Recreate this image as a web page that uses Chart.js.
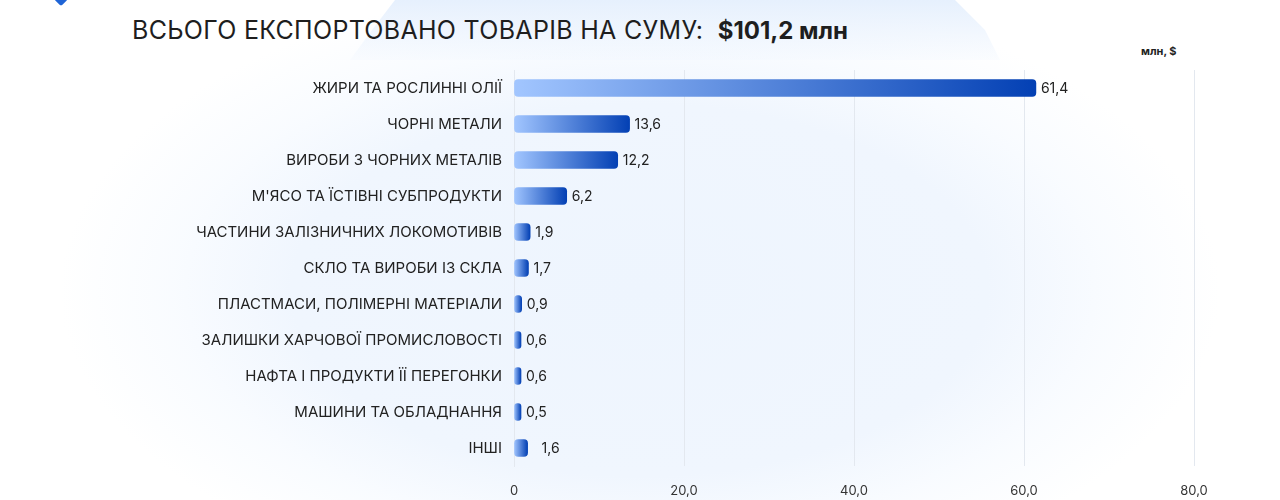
<!DOCTYPE html>
<html>
<head>
<meta charset="utf-8">
<script src="https://cdn.jsdelivr.net/npm/chart.js@4.4.0/dist/chart.umd.min.js"></script>
<style>
  html, body { margin: 0; padding: 0; }
  body {
    width: 1280px; height: 500px; position: relative; overflow: hidden;
    background: #ffffff;
    font-family: Inter, "Open Sans", sans-serif;
  }
  .blob {
    position: absolute; left: 60px; top: -20px; width: 1160px; height: 620px;
    background: radial-gradient(ellipse 50% 50% at center, #eef5fe 0%, #f0f6fe 60%, rgba(246,250,255,0.7) 80%, rgba(255,255,255,0) 100%);
  }
  .trap {
    position: absolute; left: 0; top: 0; width: 1280px; height: 60px;
    background: linear-gradient(#e6f0fd, rgba(238,245,254,0.2));
    clip-path: polygon(395px 0, 955px 0, 985px 30px, 1000px 60px, 350px 60px, 372px 30px);
  }
  .logo {
    position: absolute; left: 56px; top: -6px; width: 10px; height: 10px;
    background: #1f64d6; transform: rotate(45deg); border-radius: 2px;
  }
  .title {
    position: absolute; left: 132px; top: 15px;
    font-size: 25px; color: #1e1e1e; white-space: nowrap; letter-spacing: 0.3px;
  }
  .title b { font-weight: 700; font-size: 24px; margin-left: 7px; letter-spacing: 0; }
  .unit {
    position: absolute; left: 1141px; top: 44px;
    font-size: 11px; font-weight: 700; color: #222;
  }
  canvas { position: absolute; left: 0; top: 0; }
</style>
</head>
<body>
<div class="blob"></div>
<div class="trap"></div>
<div class="logo"></div>
<div class="title">ВСЬОГО ЕКСПОРТОВАНО ТОВАРІВ НА СУМУ: <b>$101,2 млн</b></div>
<div class="unit">млн, $</div>
<canvas id="chart" width="1280" height="500"></canvas>
<script>
const categories = [
  'ЖИРИ ТА РОСЛИННІ ОЛІЇ',
  'ЧОРНІ МЕТАЛИ',
  'ВИРОБИ З ЧОРНИХ МЕТАЛІВ',
  "М'ЯСО ТА ЇСТІВНІ СУБПРОДУКТИ",
  'ЧАСТИНИ ЗАЛІЗНИЧНИХ ЛОКОМОТИВІВ',
  'СКЛО ТА ВИРОБИ ІЗ СКЛА',
  'ПЛАСТМАСИ, ПОЛІМЕРНІ МАТЕРІАЛИ',
  'ЗАЛИШКИ ХАРЧОВОЇ ПРОМИСЛОВОСТІ',
  'НАФТА І ПРОДУКТИ ЇЇ ПЕРЕГОНКИ',
  'МАШИНИ ТА ОБЛАДНАННЯ',
  'ІНШІ'
];
const exportValues = [61.4, 13.6, 12.2, 6.2, 1.9, 1.7, 0.9, 0.6, 0.6, 0.5, 1.6];
const xTicks = [0, 20, 40, 60, 80];

const fmt = v => v.toFixed(1).replace('.', ',');

// gradient per bar, from its own start to its end
function barGradient(ctx) {
  const chart = ctx.chart;
  const area = chart.chartArea;
  if (!area) return '#3f7fe0';
  const x = chart.scales.x;
  const x0 = x.getPixelForValue(0);
  let x1 = x.getPixelForValue(ctx.raw);
  if (x1 - x0 < 7) x1 = x0 + 7;
  const g = chart.ctx.createLinearGradient(x0, 0, x1, 0);
  g.addColorStop(0, '#a2c6ff');
  g.addColorStop(1, '#0340b4');
  return g;
}

const valueLabels = {
  id: 'valueLabels',
  afterDatasetsDraw(chart) {
    const c = chart.ctx;
    const meta = chart.getDatasetMeta(0);
    c.save();
    c.font = '14px Inter, "Open Sans", sans-serif';
    c.fillStyle = '#222';
    c.textBaseline = 'middle';
    meta.data.forEach((bar, i) => {
      const extra = i === categories.length - 1 ? 14 : 5;
      c.fillText(fmt(exportValues[i]), bar.x + extra, bar.y + 1);
    });
    c.restore();
  }
};

new Chart(document.getElementById('chart'), {
  type: 'bar',
  data: {
    labels: categories,
    datasets: [{
      data: exportValues,
      backgroundColor: barGradient,
      borderRadius: 4,
      borderSkipped: false,
      barThickness: 17,
      minBarLength: 7
    }]
  },
  options: {
    indexAxis: 'y',
    responsive: false,
    animation: false,
    layout: { padding: { top: 70, right: 86, bottom: 0, left: 0 } },
    plugins: { legend: { display: false }, tooltip: { enabled: false } },
    scales: {
      x: {
        min: 0, max: 80,
        afterFit(s) { s.height = 34; },
        afterBuildTicks(s) { s.ticks = xTicks.map(v => ({ value: v })); },
        grid: { color: '#e3e8ef', drawTicks: false },
        border: { display: false },
        ticks: {
          padding: 17,
          color: '#333',
          font: { size: 13, family: 'Inter, "Open Sans", sans-serif' },
          callback: v => v === 0 ? '0' : fmt(v)
        }
      },
      y: {
        afterFit(s) { s.width = 514; },
        grid: { display: false, drawTicks: false },
        border: { color: '#e3e8ef' },
        ticks: {
          padding: 12,
          color: '#222',
          font: { size: 15, family: 'Inter, "Open Sans", sans-serif' }
        }
      }
    }
  },
  plugins: [valueLabels]
});
</script>
</body>
</html>
